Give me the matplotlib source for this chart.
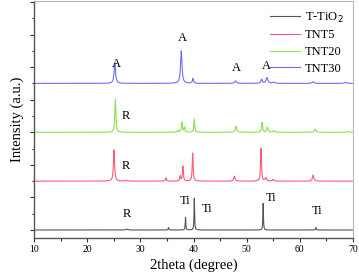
import numpy as np
import matplotlib
matplotlib.use("Agg")
import matplotlib.pyplot as plt
from matplotlib.ticker import MultipleLocator

plt.rcParams['font.family'] = ['Liberation Serif', 'DejaVu Serif']

# Data: peak lists (2theta position, height in a.u., FWHM) per sample
series_names = ["T-TiO$_2$", "TNT5", "TNT20", "TNT30"]
offsets = [0, 3, 6, 9]
colors = ["#555555", "#ff5a78", "#88e050", "#6e6eff"]

ttio2_pos = [27.5, 35.3, 38.5, 40.15, 53.1, 63.0]
ttio2_h = [0.05, 0.15, 0.78, 2.0, 1.63, 0.15]
ttio2_w = [0.4, 0.15, 0.12, 0.12, 0.12, 0.15]

tnt5_pos = [25.05, 27.4, 34.8, 37.5, 38.0, 39.85, 47.7, 52.7, 53.6, 55.0, 62.5]
tnt5_h = [1.93, 0.05, 0.2, 0.3, 0.92, 1.73, 0.3, 2.0, 0.2, 0.1, 0.37]
tnt5_w = [0.25, 0.4, 0.2, 0.2, 0.2, 0.2, 0.3, 0.2, 0.3, 0.3, 0.3]

tnt20_pos = [25.3, 37.1, 37.8, 38.3, 40.15, 48.0, 52.9, 53.9, 55.1, 62.9, 69.0]
tnt20_h = [2.0, 0.1, 0.63, 0.3, 0.8, 0.37, 0.6, 0.3, 0.1, 0.2, 0.06]
tnt20_w = [0.22, 0.2, 0.24, 0.2, 0.2, 0.3, 0.22, 0.3, 0.3, 0.3, 0.3]

tnt30_pos = [25.2, 37.7, 39.9, 47.9, 52.8, 53.8, 55.1, 62.5, 68.6]
tnt30_h = [1.25, 2.0, 0.3, 0.15, 0.25, 0.35, 0.08, 0.1, 0.07]
tnt30_w = [0.32, 0.32, 0.25, 0.4, 0.3, 0.4, 0.4, 0.4, 0.4]

peaks = [(ttio2_pos, ttio2_h, ttio2_w), (tnt5_pos, tnt5_h, tnt5_w),
         (tnt20_pos, tnt20_h, tnt20_w), (tnt30_pos, tnt30_h, tnt30_w)]

# Annotations: (text, x, y)
labels = [("A", 25.4, 9.85), ("A", 38.0, 11.4), ("A", 48.0, 9.6), ("A", 53.8, 9.7),
          ("R", 27.3, 6.6), ("R", 27.2, 3.55),
          ("R", 27.4, 0.6), ("Ti", 38.5, 1.4), ("Ti", 42.5, 0.95),
          ("Ti", 54.6, 1.6), ("Ti", 63.2, 0.8)]

theta = np.arange(10, 70.001, 0.02)

fig = plt.figure(figsize=(3.59, 2.80), dpi=100)
ax = fig.add_axes([0.0947, 0.15, 0.8886, 0.846])

for name, off, col, (pos, h, w) in zip(series_names, offsets, colors, peaks):
    y = np.zeros_like(theta)
    for p, hh, ww in zip(pos, h, w):
        g = (ww / 2) ** 2
        y += hh * g / ((theta - p) ** 2 + g)
    ax.plot(theta, y + off, color=col, lw=0.8, label=name)

for t, x, yv in labels:
    ax.text(x, yv, t, fontsize=9, ha='center', va='bottom')

ax.set_xlim(10, 70)
ax.set_ylim(-0.49, 14.05)
ax.xaxis.set_major_locator(MultipleLocator(10))
ax.xaxis.set_minor_locator(MultipleLocator(5))
ax.yaxis.set_major_locator(MultipleLocator(2))
ax.yaxis.set_minor_locator(MultipleLocator(1))
ax.tick_params(axis='both', which='major', direction='out', length=3, width=0.8, labelsize=7, pad=2, color='#333333')
ax.tick_params(axis='both', which='minor', direction='out', length=1.8, width=0.8, color='#333333')
ax.tick_params(axis='y', which='both', labelleft=False)
for s in ['left', 'bottom']:
    ax.spines[s].set_color('#555555')
    ax.spines[s].set_linewidth(1.0)
for s in ['top', 'right']:
    ax.spines[s].set_color('#bbbbbb')
    ax.spines[s].set_linewidth(0.8)

ax.set_xlabel("2theta (degree)", fontsize=10.5, labelpad=3)
ax.set_ylabel("Intensity (a.u.)", fontsize=10.5, labelpad=4)

leg = ax.legend(loc='upper right', frameon=False, fontsize=9, handlelength=2.4,
                labelspacing=0.38, borderaxespad=0.35, handletextpad=0.4)

fig.savefig("out.png", dpi=100)
